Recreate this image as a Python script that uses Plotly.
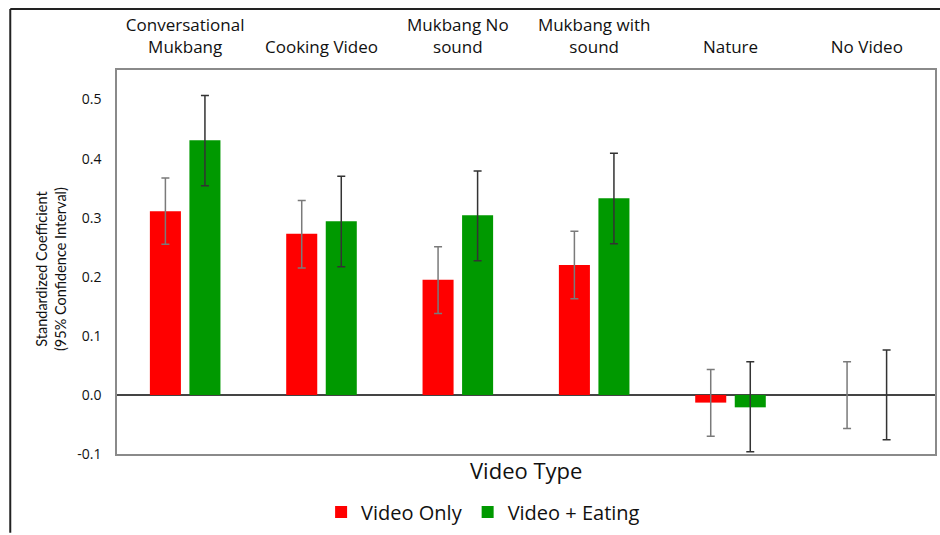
import plotly.graph_objects as go

categories = ["Conversational<br>Mukbang", "Cooking Video", "Mukbang No<br>sound",
              "Mukbang with<br>sound", "Nature", "No Video"]
video_only = [0.311, 0.273, 0.195, 0.220, -0.013, 0.0]
video_only_lo = [0.255, 0.215, 0.138, 0.163, -0.070, -0.057]
video_only_hi = [0.367, 0.329, 0.251, 0.277, 0.043, 0.056]
video_eating = [0.431, 0.294, 0.304, 0.333, -0.021, 0.0]
video_eating_lo = [0.354, 0.217, 0.227, 0.256, -0.096, -0.076]
video_eating_hi = [0.507, 0.370, 0.379, 0.409, 0.056, 0.076]
y_ticks = [-0.1, 0.0, 0.1, 0.2, 0.3, 0.4, 0.5]
y_tick_labels = ["-0.1", "0.0", "0.1", "0.2", "0.3", "0.4", "0.5"]

FONT = "Open Sans"
FONT_V = "Lato"

def plus(v, hi):
    return [h - x for x, h in zip(v, hi)]

def minus(v, lo):
    return [x - l for x, l in zip(v, lo)]

fig = go.Figure()
fig.add_trace(go.Bar(
    x=categories, y=video_only, name="Video Only",
    marker=dict(color="#FF0000", line=dict(width=0)),
    error_y=dict(type="data", array=plus(video_only, video_only_hi),
                 arrayminus=minus(video_only, video_only_lo),
                 color="#7a7a7a", thickness=1.5, width=4),
))
fig.add_trace(go.Bar(
    x=categories, y=video_eating, name="Video + Eating",
    marker=dict(color="#009900", line=dict(width=0)),
    error_y=dict(type="data", array=plus(video_eating, video_eating_hi),
                 arrayminus=minus(video_eating, video_eating_lo),
                 color="#333333", thickness=1.5, width=4),
))

L, R, T, B = 117, 3, 70, 75
W, H = 940, 535
pw, ph = W - L - R, H - T - B

def px(x):
    return (x - L) / pw

def py(y):
    return (H - B - y) / ph

fig.update_layout(
    width=W, height=H,
    margin=dict(l=L, r=R, t=T, b=B),
    paper_bgcolor="white", plot_bgcolor="white",
    barmode="group", bargap=0.42, bargroupgap=0.215,
    font=dict(family=FONT, color="#111111"),
    showlegend=True,
    legend=dict(orientation="h", x=px(484), xanchor="center", y=py(519), yanchor="middle",
                font=dict(size=20, family=FONT, color="#111111"), traceorder="normal",
                itemclick=False),
    xaxis=dict(side="top", showline=True, linecolor="#8a8a8a", linewidth=1.5, mirror=True,
               ticks="", tickfont=dict(size=17, family=FONT, color="#111111"),
               ticklabelstandoff=8, showgrid=False, zeroline=False),
    yaxis=dict(range=[-0.1, 0.55], tickvals=y_ticks, ticktext=y_tick_labels,
               showline=True, linecolor="#8a8a8a", linewidth=1.5, mirror=True,
               ticks="", tickfont=dict(size=14, family=FONT, color="#111111"),
               ticklabelstandoff=11, showgrid=False,
               zeroline=True, zerolinecolor="#444444", zerolinewidth=1.5),
    annotations=[
        dict(text="Video Type", x=0.5, y=py(476), xref="paper", yref="paper",
             showarrow=False, font=dict(size=22, family=FONT, color="#111111"),
             xanchor="center", yanchor="middle"),
        dict(text="Standardized Coefficient<br>(95% Confidence Interval)",
             x=px(51), y=py(272), xref="paper", yref="paper", textangle=-90,
             showarrow=False, font=dict(size=14.5, family=FONT_V, color="#111111"),
             xanchor="center", yanchor="middle"),
    ],
    shapes=[
        dict(type="line", xref="paper", yref="paper", x0=px(10), x1=px(10),
             y0=py(8), y1=py(540), line=dict(color="#222222", width=2)),
        dict(type="line", xref="paper", yref="paper", x0=px(10), x1=px(945),
             y0=py(8), y1=py(8), line=dict(color="#222222", width=2)),
    ],
)

fig.write_html("out.html")
